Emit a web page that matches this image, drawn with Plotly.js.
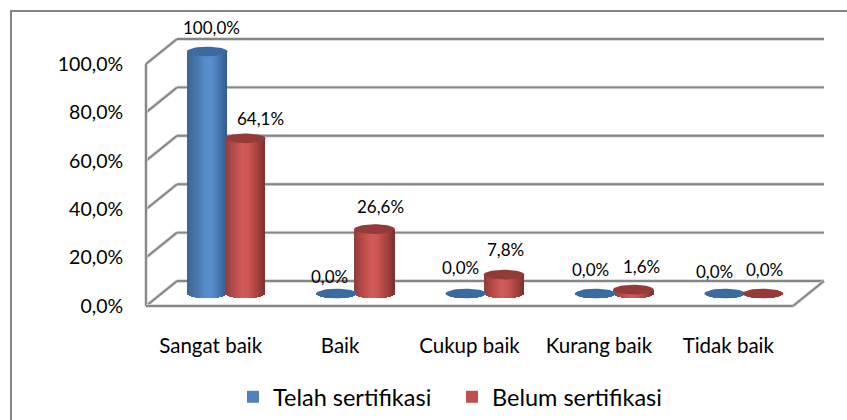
<!DOCTYPE html>
<html><head><meta charset="utf-8">
<script src="https://cdn.plot.ly/plotly-3.0.1.min.js"></script>
<style>html,body{margin:0;padding:0;background:#fff;overflow:hidden}#c{width:847px;height:420px}text{font-variant-ligatures:none}</style>
</head><body><div id="c"></div>
<script>
const categories = ["Sangat baik","Baik","Cukup baik","Kurang baik","Tidak baik"];
const telah = [100,0,0,0,0];
const belum = [64.1,26.6,7.8,1.6,0];
const yTicks = [0,20,40,60,80,100];
const yTickText = ["0,0%","20,0%","40,0%","60,0%","80,0%","100,0%"];
const blueStops = ["#3a6595","#44709f","#4b7cb6","#548ac8","#5a8fcf","#4f83c2","#3f6ea6","#2f5c8e"];
const redStops  = ["#8d3d3b","#a84744","#c0504d","#cf5a57","#cc5754","#b84a47","#9c3e3c","#7d302e"];
const blueTop = "#3a6a9f", redTop = "#943a38";
const labelDxTelah = [4,-7,-6,-5,-10], labelDyTelah = [-24,-17,-26,-24,-22];
const labelDxBelum = [15,6,1,8,2], labelDyBelum = [-20,-23,-25,-23,-24];

// geometry of the pseudo-3D frame, in pixels
const W=847,H=420, L=130,R=830,T=30,B=310;
const pxX=129.4, pxY=2.42, x0Px=210.7, y0Px=306;
const depthXpx=31, depthYpx=25;
const dx=depthXpx/pxX, dy=depthYpx/pxY;
const xr=[(L-x0Px)/pxX,(R-x0Px)/pxX], yr=[(y0Px-B)/pxY,(y0Px-T)/pxY];
const barW=40/pxX, barOff=19/pxX, ellB=4.8/pxY;
const xs=categories.map((c,i)=>i);

function hex(c){return [1,3,5].map(i=>parseInt(c.substr(i,2),16));}
function ramp(st,t){const p=t*(st.length-1),i=Math.min(Math.floor(p),st.length-2),f=p-i,a=hex(st[i]),b=hex(st[i+1]);
  return 'rgb('+a.map((v,k)=>Math.round(v+(b[k]-v)*f)).join(',')+')';}

const traces=[];
function series(name,vals,base,stops,top,side){
  const cx=xs.map(i=>i+dx/2+side*barOff), plane=dy/2;
  traces.push({type:'bar',name:name,x:cx,y:vals,base:vals.map(()=>plane),width:barW*0.9,
    marker:{color:base,line:{width:0}},showlegend:true,
    hovertemplate:'%{text}<extra>'+name+'</extra>',text:vals.map(v=>v.toFixed(1).replace('.',',')+'%'),textposition:'none'});
  const n=20;
  for(let s=0;s<n;s++){
    const u=(s+0.5)/n, off=(u-0.5)*barW, h=ellB*Math.sqrt(Math.max(0,1-Math.pow(2*u-1,2)));
    traces.push({type:'bar',x:cx.map(c=>c+off),y:vals.map(v=>v+h),base:vals.map(()=>plane-h),width:barW/n*1.25,
      marker:{color:ramp(stops,u),line:{width:0}},showlegend:false,hoverinfo:'skip'});
  }
  cx.forEach((c,i)=>{
    const ex=[],ey=[];
    for(let k=0;k<=48;k++){const t=k/48*2*Math.PI;ex.push(c+barW*0.51*Math.cos(t));ey.push(plane+vals[i]+ellB*Math.sin(t));}
    traces.push({type:'scatter',mode:'lines',x:ex,y:ey,fill:'toself',fillcolor:top,line:{width:0,color:top},showlegend:false,hoverinfo:'skip'});
  });
}
series("Telah sertifikasi",telah,"#4f81bd",blueStops,blueTop,-1);
series("Belum sertifikasi",belum,"#c0504d",redStops,redTop,1);

// frame lines
const shapes=[];
function seg(x0,y0,x1,y1){
  [["#d4d4d4",3.4],["#868686",1.9]].forEach(([c,w])=>shapes.push({type:'line',xref:'x',yref:'y',x0,y0,x1,y1,layer:'below',line:{color:c,width:w}}));
}
const xl=-0.5,xrt=4.5;
yTicks.forEach(v=>{seg(xl,v,xl+dx,v+dy);seg(xl+dx,v+dy,xrt+dx,v+dy);});
seg(xl,0,xl,100);
seg(xl,0,xrt,0);
seg(xrt,0,xrt+dx,dy);
// outer chart frame (open on the right and bottom)
const pfx=p=>(p-L)/(R-L), pfy=p=>(B-p)/(B-T);
shapes.push({type:'path',xref:'paper',yref:'paper',layer:'below',
  path:`M ${pfx(11)} ${pfy(H+5)} L ${pfx(11)} ${pfy(11)} L ${pfx(W+5)} ${pfy(11)}`,line:{color:"#868686",width:2}});

// value labels
const annotations=[];
function labels(vals,side,ddx,ddy){
  vals.forEach((v,i)=>annotations.push({xref:'x',yref:'y',x:i+dx/2+side*barOff,y:v+dy/2,
    text:v.toFixed(1).replace('.',',')+'%',showarrow:false,xshift:ddx[i],yshift:-ddy[i],
    font:{family:'Lato, sans-serif',size:17,color:'#000'}}));
}
labels(telah,-1,labelDxTelah,labelDyTelah);
labels(belum,1,labelDxBelum,labelDyBelum);

const layout={width:W,height:H,autosize:false,margin:{l:L,r:W-R,t:T,b:H-B,autoexpand:false},
  paper_bgcolor:'#fff',plot_bgcolor:'rgba(0,0,0,0)',barmode:'overlay',bargap:0,
  font:{family:'Lato, sans-serif',color:'#000'},
  xaxis:{range:xr,tickmode:'array',tickvals:xs,ticktext:categories,showgrid:false,zeroline:false,showline:false,
    ticks:'outside',ticklen:17,tickcolor:'rgba(0,0,0,0)',tickangle:0,tickfont:{size:20.5,family:'Lato, sans-serif'}},
  yaxis:{range:yr,tickmode:'array',tickvals:yTicks,ticktext:yTickText,showgrid:false,zeroline:false,showline:false,
    ticks:'outside',ticklen:2,tickcolor:'rgba(0,0,0,0)',tickfont:{size:19.5,family:'Lato, sans-serif'}},
  shapes,annotations,
  legend:{orientation:'h',x:(233-L)/(R-L),xanchor:'left',y:(B-397)/(B-T),yanchor:'middle',font:{size:23.5,family:'Lato, sans-serif'},bgcolor:'rgba(0,0,0,0)',traceorder:'normal',entrywidth:174,entrywidthmode:'pixels'},
  hovermode:'closest'};
Plotly.newPlot('c',traces,layout,{displayModeBar:false,responsive:false});
</script></body></html>
